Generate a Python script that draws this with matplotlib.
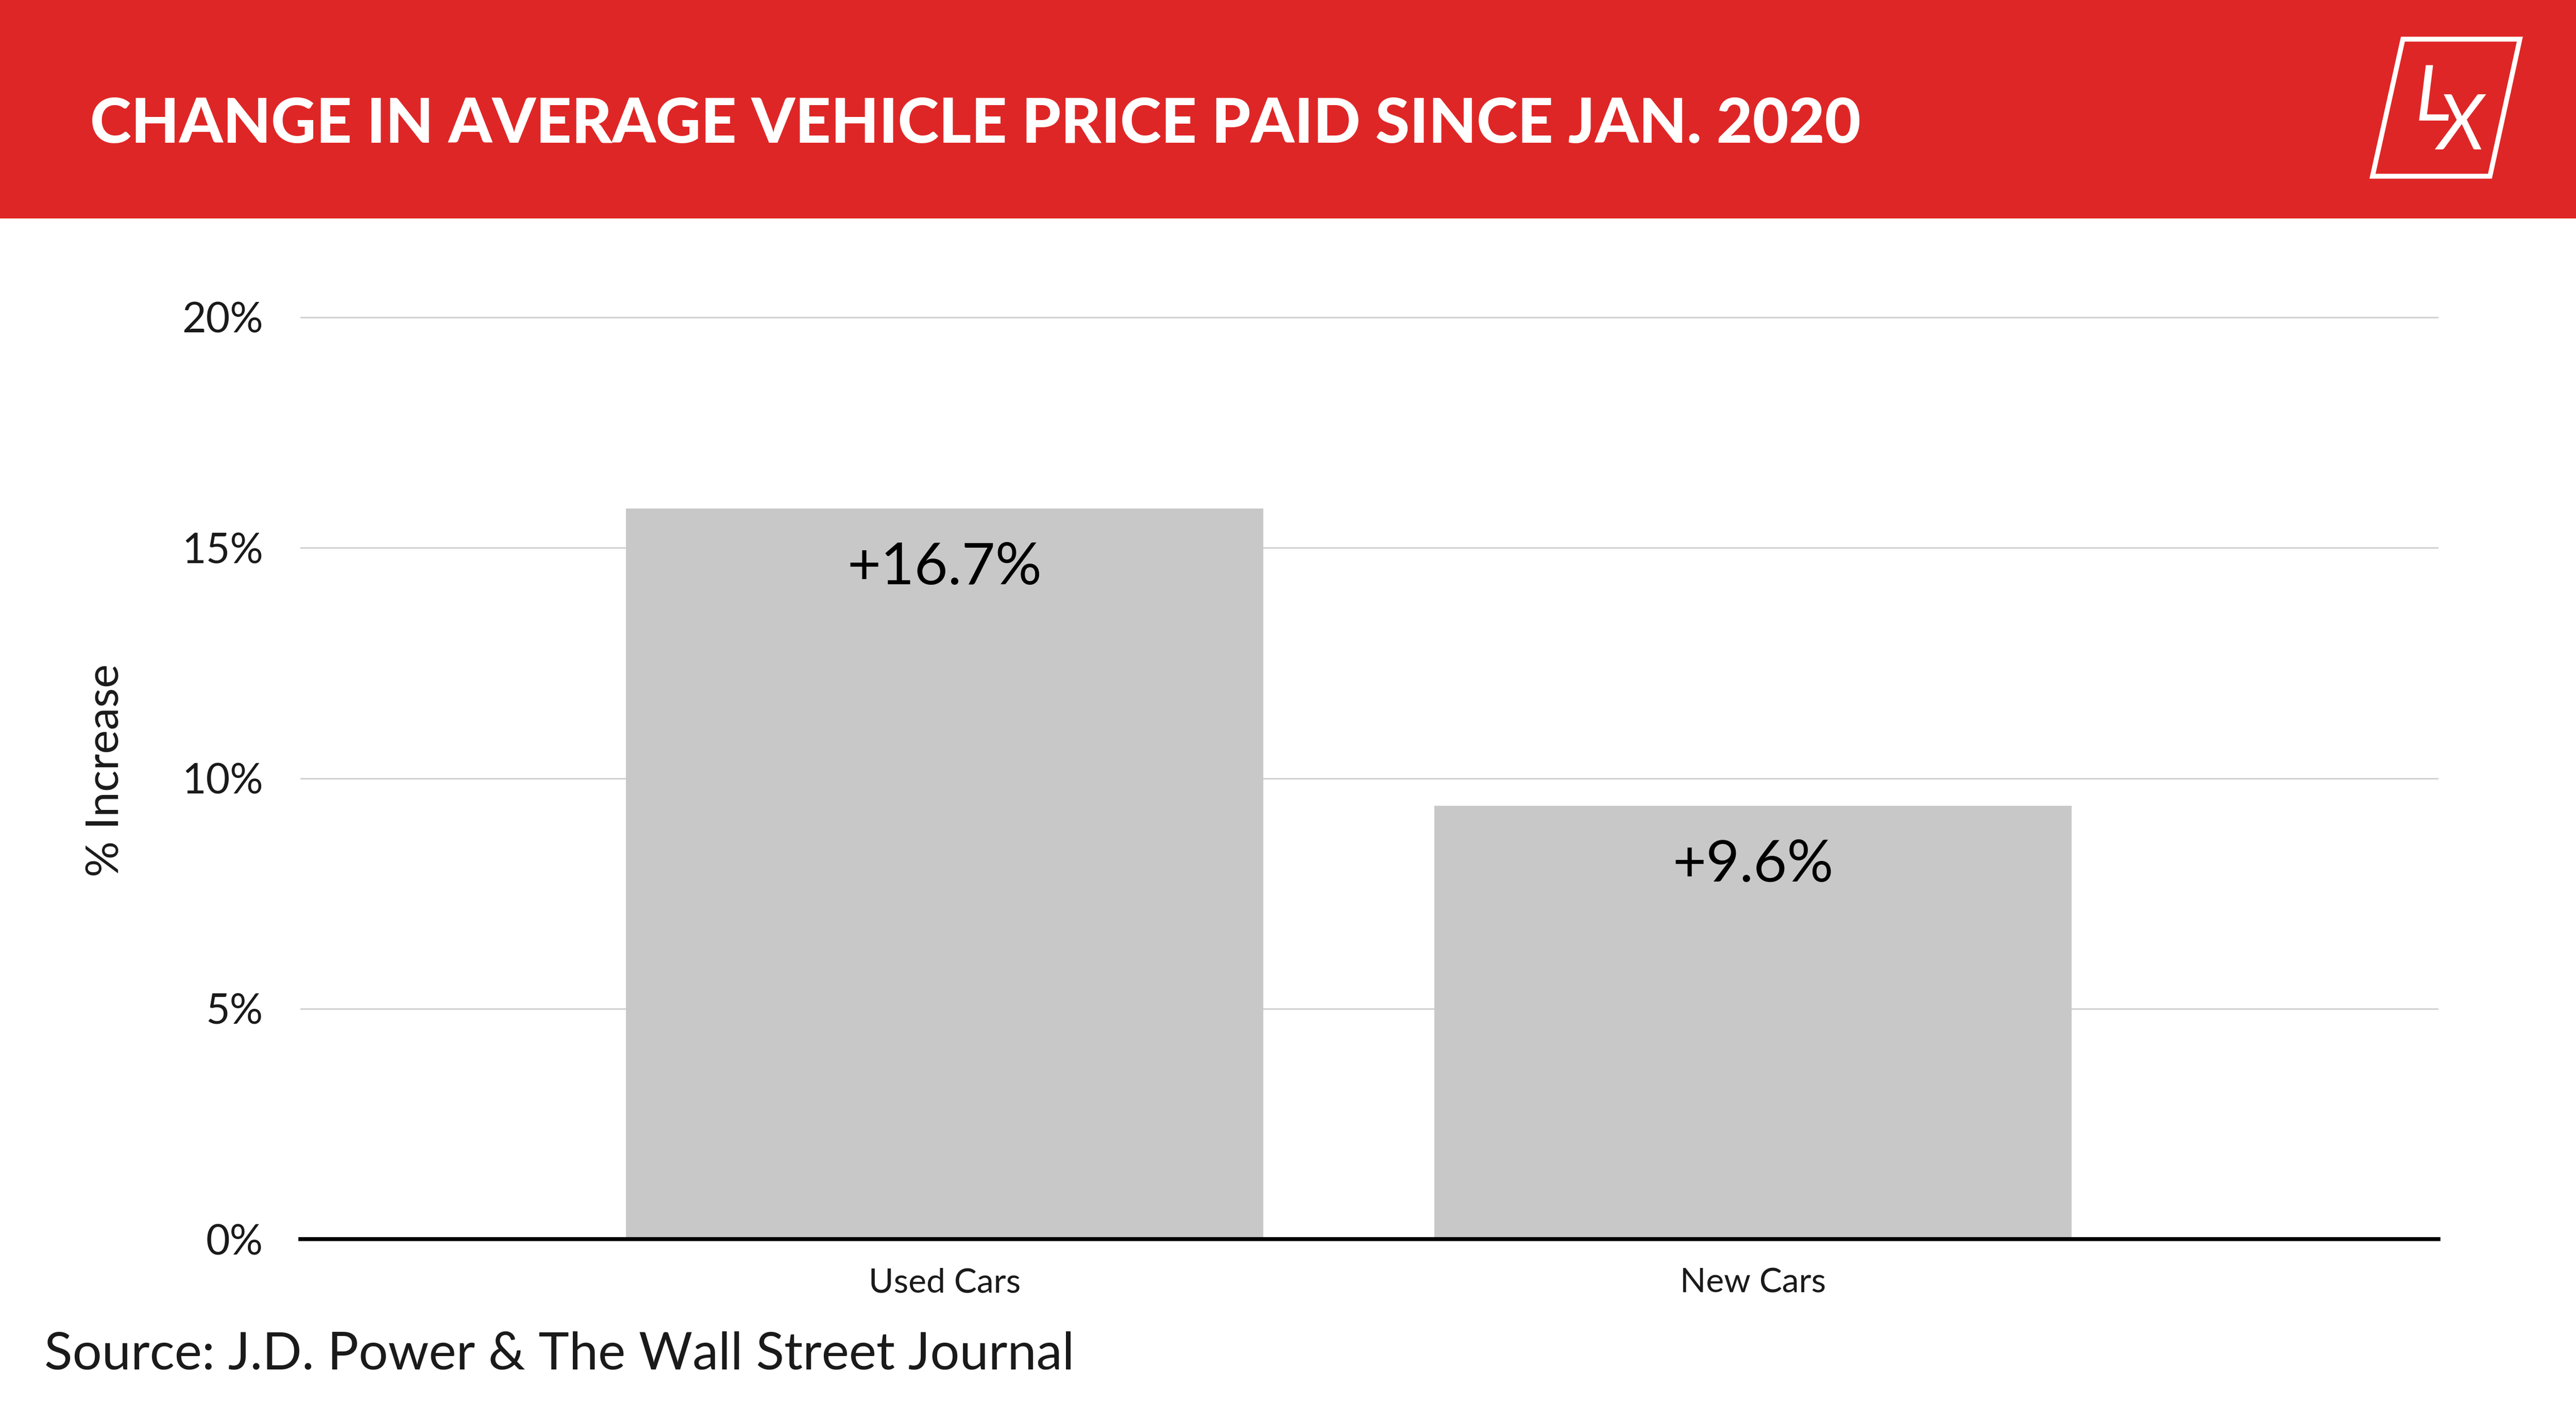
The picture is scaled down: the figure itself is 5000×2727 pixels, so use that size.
import matplotlib
matplotlib.use("Agg")
import matplotlib.pyplot as plt
from matplotlib.patches import Rectangle, Polygon

# data
categories = ["Used Cars", "New Cars"]
bar_values = [15.85, 9.4]
bar_labels = ["+16.7%", "+9.6%"]
y_ticks = [0, 5, 10, 15, 20]
y_tick_labels = ["0%", "5%", "10%", "15%", "20%"]

title = "CHANGE IN AVERAGE VEHICLE PRICE PAID SINCE JAN. 2020"
source = "Source: J.D. Power & The Wall Street Journal"

RED = "#DF2626"
BAR = "#C8C8C8"
TXT = "#1A1A1A"
FONT = "Lato"

W, H = 5000, 2727
fig = plt.figure(figsize=(W / 100, H / 100), dpi=100)
plt.rcParams['font.family'] = [FONT, 'DejaVu Sans']


def fx(px):
    return px / W


def fy(py):
    return 1 - py / H


# red banner
fig.patches.append(Rectangle((0, fy(424)), 1, 1 - fy(424), transform=fig.transFigure,
                             facecolor=RED, edgecolor="none", zorder=0))
fig.text(fx(175), fy(277), title, color="white", fontsize=87, fontweight="black",
         ha="left", va="baseline")

# logo
logo = [(fx(4605), fy(342)), (fx(4833), fy(342)), (fx(4891), fy(76)), (fx(4664), fy(76))]
fig.patches.append(Polygon(logo, closed=True, transform=fig.transFigure, fill=False,
                           edgecolor="white", linewidth=6.8, joinstyle="miter", zorder=2))
fig.text(fx(4688), fy(234), "L", color="white", fontsize=108, style="italic",
         ha="left", va="baseline")
fig.text(fx(4730), fy(290), "X", color="white", fontsize=108, style="italic",
         ha="left", va="baseline")

# axes
ymax = 20.2
ax = fig.add_axes([fx(583), fy(2405), fx(4733) - fx(583), (fy(2405 - 1789 * ymax / 20) - fy(2405))])
x = list(range(len(categories)))
bars = ax.bar(x, bar_values, width=0.789, color=BAR, zorder=2)
ax.set_xlim(-0.797, 1.848)
ax.set_ylim(0, ymax)

for b, lab in zip(bars, bar_labels):
    ax.annotate(lab, (b.get_x() + b.get_width() / 2, b.get_height()),
                xytext=(0, -83), textcoords="offset points", ha="center", va="center",
                fontsize=81, color="black", zorder=3)

ax.set_yticks(y_ticks)
ax.set_yticklabels(y_tick_labels)
ax.set_xticks(x)
ax.set_xticklabels(categories)
ax.tick_params(axis="y", length=0, pad=52, labelsize=58, labelcolor=TXT)
ax.tick_params(axis="x", length=0, pad=40, labelsize=47.5, labelcolor=TXT)
ax.grid(axis="y", color="#D2D2D2", linewidth=2.2, zorder=0)
ax.set_axisbelow(True)
for s in ["top", "right", "left"]:
    ax.spines[s].set_visible(False)
ax.spines["bottom"].set_linewidth(5.5)
ax.spines["bottom"].set_color("black")
ax.spines["bottom"].set_zorder(4)

fig.text(fx(206), fy(1495), "% Increase", rotation=90, ha="center", va="center",
         fontsize=63, color=TXT)

fig.text(fx(86), fy(2657), source, ha="left", va="baseline", fontsize=72.5, color=TXT)

fig.savefig("out.png", dpi=100, facecolor="white")
